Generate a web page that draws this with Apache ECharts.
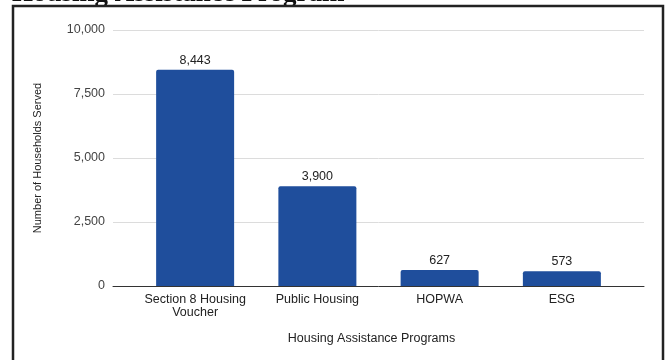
<!DOCTYPE html>
<html>
<head>
<meta charset="utf-8">
<script src="https://cdn.jsdelivr.net/npm/echarts@6/dist/echarts.min.js"></script>
<style>
  html, body { margin: 0; padding: 0; background: #fff; }
  #chart { width: 666px; height: 360px; }
</style>
</head>
<body>
<div id="chart"></div>
<script>
// Households served by program
const programs = ['Section 8 Housing\nVoucher', 'Public Housing', 'HOPWA', 'ESG'];
const households = [8443, 3900, 627, 573];
const yTicks = [0, 2500, 5000, 7500, 10000];

const yMin = yTicks[0];
const yMax = yTicks[yTicks.length - 1];
const yStep = yTicks[1] - yTicks[0];
const fmt = v => v.toLocaleString('en-US');

const chart = echarts.init(document.getElementById('chart'), null, { renderer: 'canvas' });

const sans = 'Liberation Sans, Arial, sans-serif';
const labelFont = { fontFamily: sans, fontSize: 12.5 };

chart.setOption({
  animation: false,
  backgroundColor: '#ffffff',
  graphic: [
    {
      type: 'text',
      left: 12,
      top: -19,
      style: {
        text: 'Housing Assistance Program',
        font: 'bold 27px "Liberation Serif", "Times New Roman", serif',
        fill: '#111'
      },
      z: 10
    },
    {
      type: 'rect',
      shape: { x: 13, y: 6, width: 650, height: 380 },
      style: { fill: 'none', stroke: '#222', lineWidth: 2.5 },
      z: 11
    }
  ],
  grid: [
    { left: 113, right: 22, top: 30, bottom: 74 },
    { left: 134, right: 43, top: 30, bottom: 74 }
  ],
  xAxis: [
    {
      gridIndex: 0,
      type: 'value',
      min: 0,
      max: 1,
      axisLine: { show: true, onZero: false, lineStyle: { color: '#333', width: 1 } },
      axisTick: { show: false },
      axisLabel: { show: false },
      splitLine: { show: false }
    },
    {
      gridIndex: 1,
      type: 'category',
      data: programs,
      axisLine: { show: false },
      axisTick: { show: false },
      axisLabel: Object.assign({ color: '#222', margin: 7, lineHeight: 13, interval: 0 }, labelFont),
      name: 'Housing Assistance Programs',
      nameLocation: 'middle',
      nameGap: 46,
      nameTextStyle: Object.assign({ color: '#222', padding: [0, 14, 0, 0] }, labelFont)
    }
  ],
  yAxis: [
    {
      gridIndex: 0,
      type: 'value',
      min: yMin,
      max: yMax,
      interval: yStep,
      axisLine: { show: false },
      axisTick: { show: false },
      axisLabel: Object.assign({ color: '#444', margin: 8, formatter: v => fmt(v) }, labelFont),
      splitLine: { show: true, lineStyle: { color: '#dcdcdc', width: 1 } },
      name: 'Number of Households Served',
      nameLocation: 'middle',
      nameRotate: 90,
      nameGap: 70,
      nameTextStyle: { color: '#222', fontFamily: sans, fontSize: 11 }
    },
    {
      gridIndex: 1,
      type: 'value',
      min: yMin,
      max: yMax,
      interval: yStep,
      show: false,
      splitLine: { show: false }
    }
  ],
  series: [
    {
      type: 'bar',
      xAxisIndex: 1,
      yAxisIndex: 1,
      data: households,
      barWidth: 78,
      itemStyle: { color: '#1f4e9c', borderRadius: [2, 2, 0, 0] },
      label: Object.assign({
        show: true,
        position: 'top',
        distance: 3,
        color: '#222',
        formatter: p => fmt(p.value)
      }, labelFont),
      z: 3
    }
  ]
});
</script>
</body>
</html>
